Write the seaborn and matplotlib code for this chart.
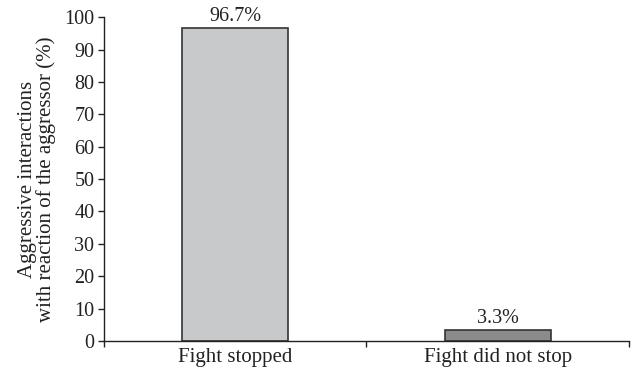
import matplotlib
matplotlib.use("Agg")
import matplotlib.pyplot as plt
import seaborn as sns
import pandas as pd
from matplotlib.ticker import FixedLocator

categories = ["Fight stopped", "Fight did not stop"]
values = [96.7, 3.3]
labels = ["96.7%", "3.3%"]
colors = ["#c8c9cb", "#8a8b8d"]

sns.set_style("white")
plt.rcParams['font.family'] = ['Liberation Serif', 'DejaVu Serif']

df = pd.DataFrame({"cat": categories, "val": values})

fig = plt.figure(figsize=(6.36, 3.72), dpi=100)
ax = fig.add_axes([0.1635, 0.0833, 0.8255, 0.8707])
sns.barplot(data=df, x="cat", y="val", hue="cat", palette=colors, legend=False,
            width=0.405, edgecolor="#333333", linewidth=1.2, saturation=1, ax=ax)

for i, (v, t) in enumerate(zip(values, labels)):
    ax.text(i, v + 0.6, t, ha="center", va="bottom", fontsize=14.5, color="#222222")

ax.set_xlim(-0.5, 1.5)
ax.set_ylim(0, 100)
ax.set_yticks(range(0, 101, 10))
ax.set_xlabel("")
ax.set_ylabel("Aggressive interactions\nwith reaction of the aggressor (%)", fontsize=15,
              color="#222222", linespacing=0.95, labelpad=6)
ax.tick_params(axis="y", labelsize=14.5, length=4, width=1, direction="out", left=True,
               colors="#222222", pad=3)
ax.tick_params(axis="x", which="major", length=0, labelsize=15, colors="#222222", pad=5)
ax.xaxis.set_minor_locator(FixedLocator([-0.5, 0.5, 1.5]))
ax.tick_params(axis="x", which="minor", length=4, width=1, direction="out", bottom=True,
               color="#222222")
for s in ["top", "right"]:
    ax.spines[s].set_visible(False)
for s in ["left", "bottom"]:
    ax.spines[s].set_color("#222222")
    ax.spines[s].set_linewidth(1)

fig.savefig("out.png", dpi=100)
